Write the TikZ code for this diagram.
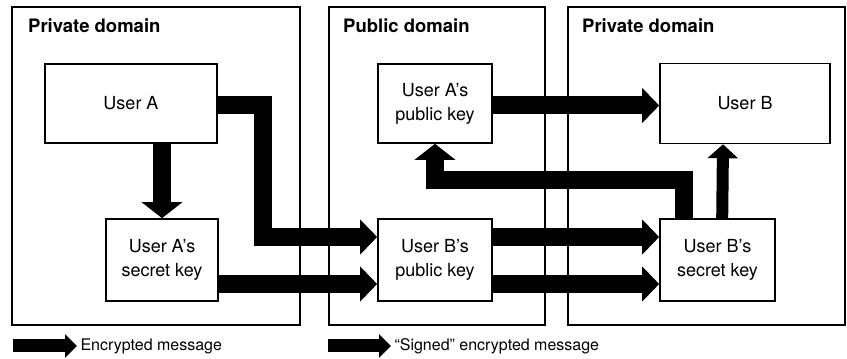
\documentclass[tikz,border=0pt]{standalone}
\usepackage{fontspec}
\setmainfont{TeX Gyre Heros}
\usetikzlibrary{arrows.meta}

\begin{document}
\begin{tikzpicture}[x=1pt, y=1pt,
    every node/.style={font=\fontsize{18}{24}\selectfont},
    domainbox/.style={draw, line width=2pt, inner sep=0pt},
    domaintitle/.style={anchor=base west, inner sep=0pt, font=\fontsize{18.5}{22}\selectfont\bfseries},
    keybox/.style={draw, line width=1.6pt, fill=white, align=center, inner sep=0pt},
    legendtext/.style={anchor=west, font=\fontsize{16}{20}\selectfont},
    bigarrow/.style={line width=18pt, -{Triangle[width=34pt, length=17pt]}},
    uparrow/.style={line width=18pt, -{Triangle[width=40pt, length=16pt]}},
    legarrow/.style={line width=13pt, -{Triangle[width=23pt, length=12pt]}}]
    \useasboundingbox (0,0) rectangle (847,359);

    \node[domainbox, minimum width=288pt, minimum height=318pt] (privA) at (156,193) {};
    \node[domainbox, minimum width=216pt, minimum height=318pt] (pubdom) at (437,193) {};
    \node[domainbox, minimum width=277pt, minimum height=318pt] (privB) at (706.5,193) {};
    \node[domaintitle] (privAtitle) at (28,326) {Private domain};
    \node[domaintitle] (pubtitle) at (343,326) {Public domain};
    \node[domaintitle] (privBtitle) at (582,326) {Private domain};

    \node[keybox, minimum width=172pt, minimum height=79pt] (userA) at (131,255.5) {User A};
    \node[keybox, minimum width=112pt, minimum height=82pt] (asec) at (162,99) {User A's\\secret key};
    \node[keybox, minimum width=114pt, minimum height=79pt] (apub) at (435,255.5) {User A's\\public key};
    \node[keybox, minimum width=114pt, minimum height=82pt] (bpub) at (435,99) {User B's\\public key};
    \node[keybox, minimum width=170pt, minimum height=80pt] (userB) at (745,255.5) {User B};
    \node[keybox, minimum width=115pt, minimum height=82pt] (bsec) at (717.5,99) {User B's\\secret key};

    \draw[uparrow] (asec.north |- userA.south) -- (asec.north);
    \draw[bigarrow] ([yshift=-2pt]userA.east) -- ++(45,0) |- ([yshift=23pt]bpub.west);
    \draw[bigarrow] ([yshift=-24pt]asec.east) -- ([yshift=-24pt]bpub.west);
    \draw[bigarrow] ([yshift=-2pt]apub.east) -- ([yshift=-2pt]userB.west);
    \draw[uparrow] ([xshift=25pt]bsec.north west) -- ++(0,38) -| (apub.south);
    \draw[line width=12pt, -{Triangle[width=30pt, length=14pt]}]
      ([xshift=63pt]bsec.north west) -- ([xshift=-22pt]userB.south);
    \draw[bigarrow] ([yshift=23pt]bpub.east) -- ([yshift=23pt]bsec.west);
    \draw[bigarrow] ([yshift=-24pt]bpub.east) -- ([yshift=-24pt]bsec.west);

    \coordinate (encstart) at (13,13);
    \node[legendtext] (encmsg) at (77,13) {Encrypted message};
    \draw[legarrow] (encstart) -- (encmsg.west);
    \coordinate (signstart) at (328,13);
    \node[legendtext] (signmsg) at (391,13) {“Signed” encrypted message};
    \draw[legarrow] (signstart) -- (signmsg.west);
\end{tikzpicture}
\end{document}
